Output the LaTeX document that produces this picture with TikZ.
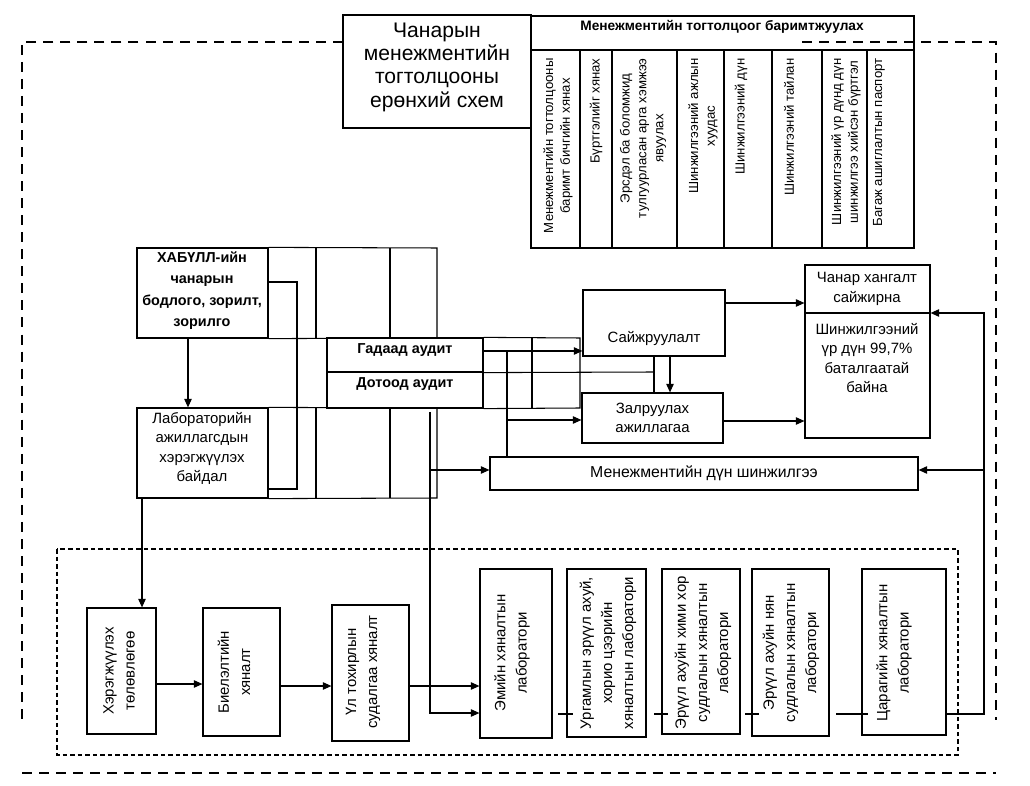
\documentclass[tikz,border=0pt]{standalone}
\usepackage{fontspec}
\setmainfont{Liberation Sans}
\usetikzlibrary{arrows.meta,fit}

\tikzset{
  box/.style={draw, line width=0.7pt, inner sep=0pt},
  arr/.style={-{Triangle[length=4.8pt,width=4.2pt]}},
  bigdash/.style={line width=1.6pt, dash pattern=on 5.7pt off 4pt},
  smalldash/.style={line width=0.6pt, dash pattern=on 2.6pt off 1.7pt},
  txt/.style={font=\fontsize{8.5}{11}\selectfont, align=center, inner sep=0pt},
  boldtxt/.style={font=\fontsize{8.2}{12.2}\selectfont\bfseries, align=center, inner sep=0pt},
  coltxt/.style={font=\fontsize{7.5}{9.6}\selectfont, align=center, inner sep=0pt, rotate=90},
  vtxt/.style={font=\fontsize{8.5}{12}\selectfont, align=center, inner sep=0pt, rotate=90},
}

\begin{document}
\begin{tikzpicture}[x=0.02cm, y=-0.02cm, line width=0.6pt]
\useasboundingbox (0,0) rectangle (1030,786);

% outer and inner frames
\draw[bigdash] (343,42) -- (22,42) -- (22,720);
\draw[bigdash] (802,42) -- (996,42) -- (996,720);
\draw[bigdash] (22,773) -- (996,773);
\draw[smalldash] (57,549) rectangle (958,755);

% title and documentation table
\node[box, fit={(343,15) (531,128)}] (title) {};
\node[txt, font=\fontsize{12}{13.3}\selectfont] (titletxt) at (437,67) {Чанарын\\менежментийн\\тогтолцооны\\ерөнхий схем};
\node[box, fit={(531,16) (914,50)}] (doc) {};
\node[boldtxt, font=\fontsize{7.8}{9}\selectfont\bfseries] (doctxt) at (722,27) {Менежментийн тогтолцоог баримтжуулах};
\foreach \xa/\xb/\xt/\lbl [count=\i] in {
    531/580/558/{Менежментийн тогтолцооны\\баримт бичгийн хянах},
    580/612/596/{Бүртгэлийг хянах},
    612/677/643/{Эрсдэл ба боломжид\\тулгуурласан арга хэмжээ\\явуулах},
    677/724/703/{Шинжилгээний ажлын\\хуудас},
    724/772/741/{Шинжилгээний дүн},
    772/822/789/{Шинжилгээний тайлан},
    822/867/846/{Шинжилгээний үр дүнд дүн\\шинжилгээ хийсэн бүртгэл},
    867/914/879/{Багаж ашиглалтын паспорт}}
{
  \node[box, fit={(\xa,50) (\xb,248)}] (col\i) {};
  \node[coltxt, anchor=east] (coltxt\i) at (\xt,58) {\lbl};
}

% policy and staff grids
\node[box, fit={(137,248) (268,338)}] (hab) {};
\node[boldtxt, anchor=north] (habtxt) at (202,251) {ХАБҮЛЛ-ийн\\чанарын\\бодлого, зорилт,\\зорилго};
\draw (hab.north east) -- (437,248) -- (437,338) -- (hab.south east);
\foreach \x in {316,390} \draw (\x,248) -- (\x,338);
\node[box, fit={(137,408) (268,498)}] (lab) {};
\node[txt, anchor=north] (labtxt) at (202,412) {Лабораторийн\\ажиллагсдын\\хэрэгжүүлэх\\байдал};
\draw (lab.north east) -- (437,408) -- (437,498) -- (lab.south east);
\foreach \x in {316,390} \draw (\x,408) -- (\x,498);

% audits
\node[box, fit={(327,338) (483,372)}] (gad) {};
\node[boldtxt] (gadtxt) at (405,350) {Гадаад аудит};
\node[box, fit={(327,372) (483,408)}] (dot) {};
\node[boldtxt] (dottxt) at (405,384) {Дотоод аудит};
\draw (gad.north east) -- (580,338) -- (580,408) -- (dot.south east);
\draw (532,338) -- (532,408);
\draw (gad.south east) -- (654,372);

% improvement and results
\node[box, fit={(583,290) (725,356)}] (sajj) {};
\node[txt] (sajjtxt) at (654,339) {Сайжруулалт};
\node[box, fit={(582,393) (723,443)}] (zal) {};
\node[txt] (zaltxt) at (zal.center) {Залруулах\\ажиллагаа};
\node[box, fit={(805,265) (930,438)}] (chan) {};
\draw (chan.west |- 0,313) -- (chan.east |- 0,313);
\node[txt] (chantop) at (867,289) {Чанар хангалт\\сайжирна};
\node[txt, anchor=north] (chanbot) at (867,323) {Шинжилгээний\\үр дүн 99,7\%\\баталгаатай\\байна};
\node[box, fit={(490,457) (918,490)}] (men) {};
\node[txt, font=\fontsize{9}{11}\selectfont] (mentxt) at (men.center) {Менежментийн дүн шинжилгээ};

% bottom row
\foreach \n/\xa/\ya/\xb/\yb/\xt/\yt/\lbl in {
    plan/87/608/156/734/119/671/{Хэрэгжүүлэх\\төлөвлөгөө},
    biel/203/608/280/736/234/672/{Биелэлтийн\\хяналт},
    ul/332/605/409/741/363/672/{Үл тохирлын\\судалгаа хяналт},
    em/480/569/552/738/512/653/{Эмийн хяналтын\\лаборатори},
    urg/567/569/646/737/608/653/{Ургамлын эрүүл ахуй,\\хорио цээрийн\\хяналтын лаборатори},
    him/662/569/740/734/703/653/{Эрүүл ахуйн хими хор\\судлалын  хяналтын\\лаборатори},
    nyan/752/569/829/736/791/653/{Эрүүл ахуйн нян\\судлалын  хяналтын\\лаборатори},
    tsar/862/569/946/735/894/653/{Царагийн хяналтын\\лаборатори}}
{
  \node[box, fit={(\xa,\ya) (\xb,\yb)}] (\n) {};
  \node[vtxt] (\n txt) at (\xt,\yt) {\lbl};
}

% connectors
\draw[arr] (hab.south -| 188,0) -- (lab.north -| 188,0);
\draw (hab.east |- 0,282) -- (297,282) -- (297,489) -- (lab.east |- 0,489);
\draw[arr] (lab.south -| 142,0) -- (plan.north -| 142,0);
\draw[arr] (plan.east |- 0,684) -- (biel.west |- 0,684);
\draw[arr] (biel.east |- 0,686) -- (ul.west |- 0,686);
\draw[arr] (ul.east |- 0,686) -- (em.west |- 0,686);
\coordinate (labdown) at (430,412);
\draw[arr] (labdown) -- (430,713) -- (em.west |- 0,713);
\draw[arr] (430,470) -- (men.west |- 0,470);
\draw[arr] (gad.east |- 0,351) -- (sajj.west |- 0,351);
\draw (507,351) -- (men.north -| 507,0);
\draw[arr] (507,420) -- (zal.west |- 0,420);
\draw[arr] (sajj.south -| 670,0) -- (zal.north -| 670,0);
\draw (sajj.south -| 654,0) -- (zal.north -| 654,0);
\draw[arr] (sajj.east |- 0,303) -- (chan.west |- 0,303);
\draw[arr] (zal.east |- 0,421) -- (chan.west |- 0,421);
% feedback from the laboratories
\draw[arr] (tsar.east |- 0,714) -- (984,714) -- (984,313) -- (chan.east |- 0,313);
\draw[arr] (984,470) -- (men.east |- 0,470);
\foreach \n/\a/\b in {urg/8/7, him/7/7, nyan/6/8, tsar/25/7}
  \draw (\n.west |- 0,714) ++(-\a,0) -- ++({\a+\b},0);
\end{tikzpicture}
\end{document}
